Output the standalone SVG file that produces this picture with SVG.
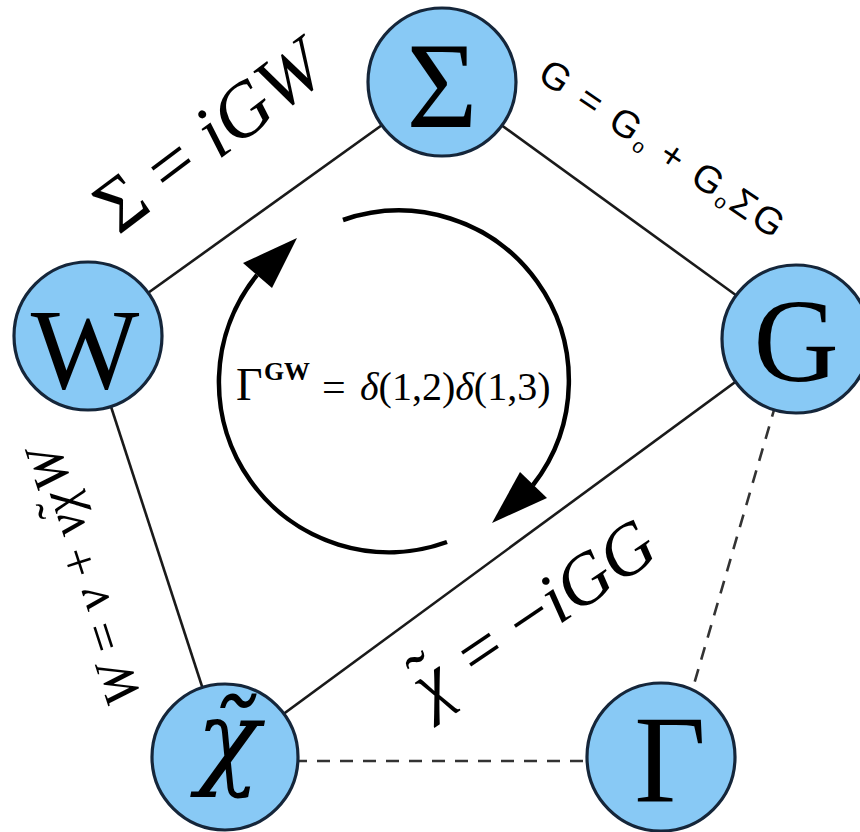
<svg xmlns="http://www.w3.org/2000/svg" width="860" height="832" viewBox="0 0 860 832">
<style>
.edge{stroke:#1a1a1a;stroke-width:2.6;fill:none}
.dash{stroke:#333;stroke-width:2.6;fill:none;stroke-dasharray:13 10}
.node{fill:#88C9F5;stroke:#15263a;stroke-width:3.2}
.ntxt{font-family:"Liberation Serif","Times New Roman",serif;fill:#000;text-anchor:middle}
.lbl{font-family:"Liberation Serif","Times New Roman",serif;fill:#000}
.it{font-style:italic}
.cyc{stroke:#000;stroke-width:4.5;fill:none}
.arrowhead{fill:#000}
</style>
<rect width="860" height="832" fill="#fff"/>
<g id="connectors">
  <line class="edge" x1="88" y1="336" x2="442" y2="82"/>
  <line class="edge" x1="442" y1="82" x2="795" y2="338"/>
  <line class="edge" x1="88" y1="336" x2="225" y2="757"/>
  <line class="edge" x1="225" y1="757" x2="795" y2="338"/>
  <line class="dash" x1="225" y1="761" x2="661" y2="761"/>
  <line class="dash" x1="795" y1="338" x2="690" y2="698"/>
</g>
<g id="cycle">
  <path class="cyc" d="M447,542 A170,170 0 0 1 257,275"/>
  <path class="cyc" d="M343,220 A170,170 0 0 1 533,485"/>
  <polygon class="arrowhead" points="297,238 243,263 272,288"/>
  <polygon class="arrowhead" points="492,523 520,472 547,498"/>
  <text class="lbl" x="236" y="400" font-size="46">Γ</text>
  <text class="lbl" x="264" y="380" font-size="25" font-weight="bold" textLength="46" lengthAdjust="spacingAndGlyphs">GW</text>
  <text class="lbl" x="322" y="401" font-size="42">=</text>
  <text class="lbl" x="360" y="400" font-size="40"><tspan class="it">δ</tspan>(1,2)<tspan class="it">δ</tspan>(1,3)</text>
</g>
<g id="label-sigma">
  <text class="lbl" font-size="76" text-anchor="middle" transform="translate(224,156) rotate(-37)">Σ = <tspan class="it">iGW</tspan></text>
</g>
<g id="label-g">
  <text font-family="Liberation Sans, Arial, sans-serif" font-size="38" letter-spacing="3" text-anchor="middle" transform="translate(656,160) rotate(34)">G = G<tspan font-size="20" dy="5">o</tspan><tspan dy="-5"> + G</tspan><tspan font-size="20" dy="5">o</tspan><tspan dy="-5">ΣG</tspan></text>
</g>
<g id="label-chi">
  <text class="lbl" font-size="72" text-anchor="middle" transform="translate(546,634) rotate(-34)"><tspan class="it">χ</tspan><tspan dx="-27" dy="-8">˜</tspan><tspan dx="9" dy="8"> = −</tspan><tspan class="it">iGG</tspan></text>
</g>
<g id="label-w">
  <text class="lbl" font-size="52" text-anchor="middle" transform="translate(100,571) rotate(-108)"><tspan class="it">W</tspan> = <tspan class="it">v</tspan> + <tspan class="it">vχ</tspan><tspan dx="-22" dy="-6">˜</tspan><tspan class="it" dx="8" dy="6">W</tspan></text>
</g>
<g id="node-sigma">
  <circle class="node" cx="442" cy="82" r="74"/>
  <text class="ntxt" x="442" y="127" font-size="122">Σ</text>
</g>
<g id="node-w">
  <circle class="node" cx="88" cy="336" r="74"/>
  <text class="ntxt" x="85" y="388" font-size="115">W</text>
</g>
<g id="node-g">
  <circle class="node" cx="796" cy="339" r="74"/>
  <text class="ntxt" x="796" y="381" font-size="118">G</text>
</g>
<g id="node-chi">
  <circle class="node" cx="225" cy="757" r="73"/>
  <text x="228" y="775" font-family="DejaVu Serif, serif" font-style="italic" font-size="105" text-anchor="middle">χ̃</text>
</g>
<g id="node-gamma">
  <circle class="node" cx="661" cy="757" r="74"/>
  <text class="ntxt" x="670" y="802" font-size="124">Γ</text>
</g>
</svg>
